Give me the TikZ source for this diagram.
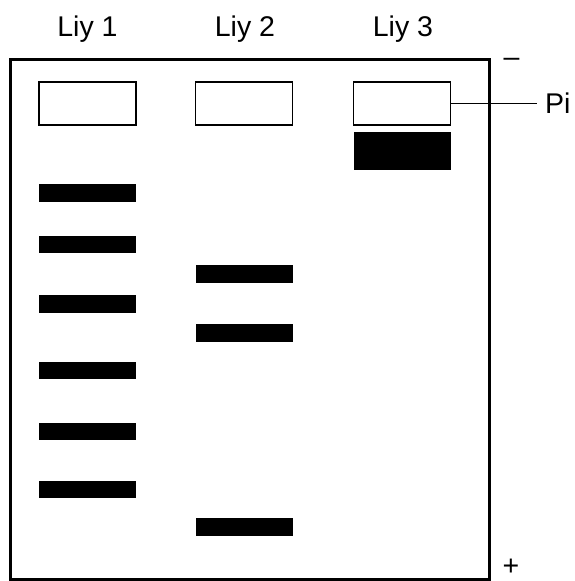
\documentclass[tikz,border=0pt]{standalone}
\usepackage{fontspec}
\setmainfont{Liberation Sans}
\usetikzlibrary{positioning}

\begin{document}
\begin{tikzpicture}[
  x=1pt,y=-1pt,
  lbl/.style={font=\fontsize{28.5}{34}\selectfont, inner sep=0pt},
  well/.style={draw, line width=1.5pt, minimum width=97pt, minimum height=43pt, inner sep=0pt},
  band/.style={fill=black, minimum width=97pt, minimum height=17.5pt, inner sep=0pt},
  bigband/.style={band, minimum height=38pt}
]
\useasboundingbox (0,0) rectangle (574,581);
\node[draw, line width=3pt, minimum width=479pt, minimum height=520pt, inner sep=0pt] (gel) at (249.5,319) {};
\node[lbl, anchor=base] (l1) at (87.5,36) {Liy 1};
\node[lbl, anchor=base] (l2) at (245,36) {Liy 2};
\node[lbl, anchor=base] (l3) at (403,36) {Liy 3};
\node[well] (w1) at (87.5,103.5) {};
\node[well] (w2) at (244,103.5) {};
\node[well] (w3) at (402,103.5) {};
\foreach \i/\y in {1/193,2/244.5,3/304,4/370.5,5/431.5,6/489.5}{
  \node[band] (a\i) at (87.5,\y) {};
}
\foreach \i/\y in {1/274,2/333,3/527}{
  \node[band] (b\i) at (244,\y) {};
}
\node[bigband] (c1) at (402,151) {};
\node[lbl, anchor=base] (minus) at (511.5,66) {–};
\node[lbl, anchor=base] (plus) at (511,575) {+};
\node[lbl, anchor=west, inner xsep=8pt] (pi) at (537,103.5) {Pi};
\draw[line width=1.5pt] (w3.east) -- (pi.west);
\end{tikzpicture}
\end{document}
